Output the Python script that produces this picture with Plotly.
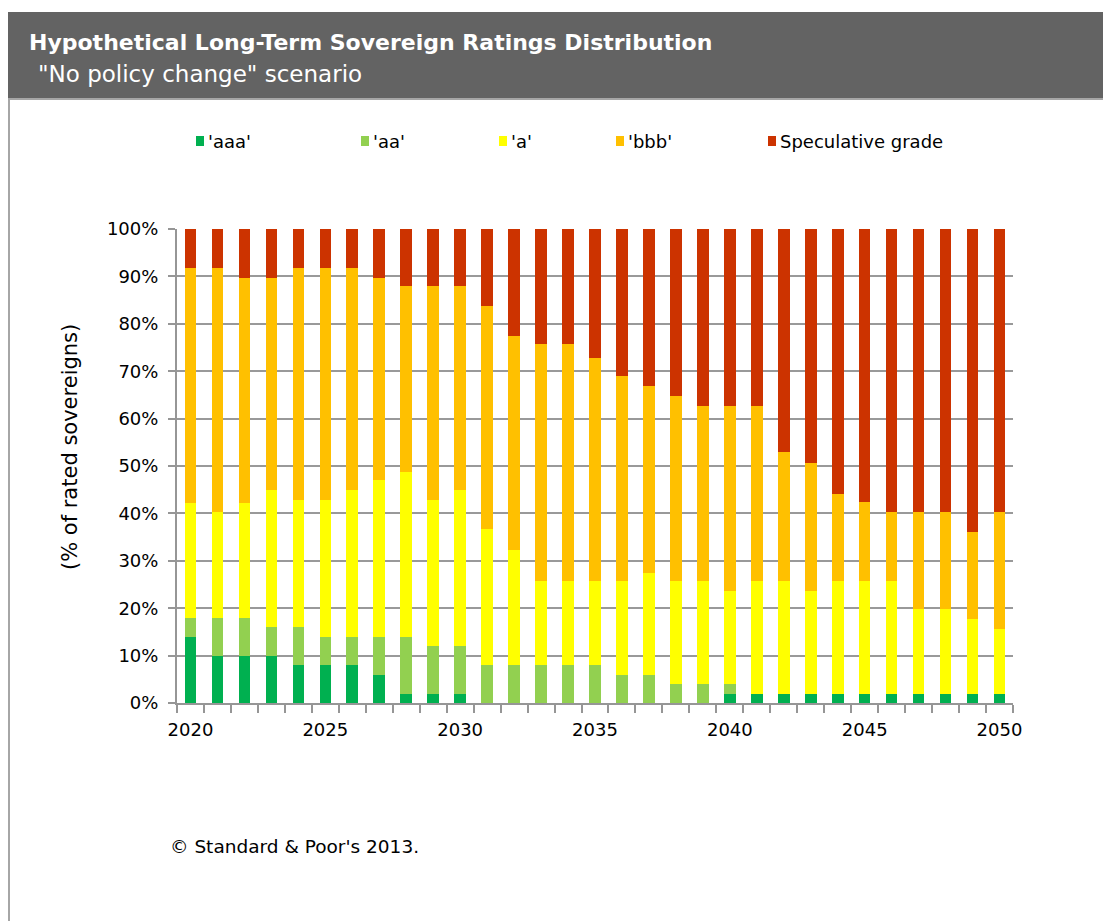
import plotly.graph_objects as go

# ---------------- data ----------------
years = list(range(2020, 2051))
tick_years = [2020, 2025, 2030, 2035, 2040, 2045, 2050]
tick_labels = ["2020", "2025", "2030", "2035", "2040", "2045", "2050"]

aaa = [14, 10, 10, 10, 8, 8, 8, 6, 2, 2, 2, 0, 0, 0, 0, 0, 0, 0, 0, 0,
       2, 2, 2, 2, 2, 2, 2, 2, 2, 2, 2]
aa = [4, 8, 8, 6, 8, 6, 6, 8, 12, 10, 10, 8, 8, 8, 8, 8, 6, 6, 4, 4,
      2, 0, 0, 0, 0, 0, 0, 0, 0, 0, 0]
a = [24.3, 22.3, 24.3, 28.9, 26.8, 28.8, 30.9, 33.0, 34.7, 30.8, 32.9,
     28.8, 24.2, 17.8, 17.8, 17.8, 19.8, 21.5, 21.8, 21.8, 19.7,
     23.8, 23.8, 21.7, 23.8, 23.8, 23.8, 17.9, 17.9, 15.8, 13.7]
bbb = [49.5, 51.5, 47.4, 44.8, 49.0, 49.0, 46.9, 42.7, 39.3, 45.2, 43.1,
       46.9, 45.2, 49.9, 49.9, 47.0, 43.2, 39.4, 38.9, 36.8, 38.9,
       36.8, 27.1, 27.0, 18.3, 16.6, 14.5, 20.4, 20.4, 18.2, 24.6]
spec = [8.2, 8.2, 10.3, 10.3, 8.2, 8.2, 8.2, 10.3, 12.0, 12.0, 12.0,
        16.3, 22.6, 24.3, 24.3, 27.2, 31.0, 33.1, 35.3, 37.4, 37.4,
        37.4, 47.1, 49.3, 55.9, 57.6, 59.7, 59.7, 59.7, 64.0, 59.7]

series_names = ["'aaa'", "'aa'", "'a'", "'bbb'", "Speculative grade"]
series_values = [aaa, aa, a, bbb, spec]
series_colors = ["#00B050", "#92D050", "#FFFF00", "#FFC000", "#CC3300"]

# ---------------- layout geometry ----------------
# page body has an 8px margin, so figure pixel = screen pixel - 8
OFF = 8
W, H = 1111, 921
L, R, T, B = 177 - OFF, 1013 - OFF, 229 - OFF, 703 - OFF
PW, PH = R - L, B - T
FONT = "DejaVu Sans"


def px(x):
    """screen x -> paper x"""
    return (x - OFF - L) / PW


def py(y):
    """screen y -> paper y"""
    return (B - (y - OFF)) / PH


fig = go.Figure()
for name, vals, col in zip(series_names, series_values, series_colors):
    fig.add_trace(go.Bar(x=years, y=vals, name=name,
                         marker=dict(color=col, line=dict(width=0)),
                         showlegend=False))

shapes = []
annotations = []

# header band
shapes.append(dict(type="rect", xref="paper", yref="paper", layer="below",
                   x0=px(8), x1=px(1125), y0=py(98), y1=py(12),
                   fillcolor="#636363", line=dict(width=0)))
shapes.append(dict(type="line", xref="paper", yref="paper",
                   x0=px(8), x1=px(1125), y0=py(99), y1=py(99),
                   line=dict(color="#a6a6a6", width=2)))
shapes.append(dict(type="line", xref="paper", yref="paper",
                   x0=px(9), x1=px(9), y0=py(99), y1=py(935),
                   line=dict(color="#a6a6a6", width=2)))

annotations.append(dict(text="<b>Hypothetical Long-Term Sovereign Ratings Distribution</b>",
                        xref="paper", yref="paper", x=px(27), y=py(43),
                        xanchor="left", yanchor="middle", showarrow=False,
                        font=dict(family=FONT, size=22, color="white")))
annotations.append(dict(text="\"No policy change\" scenario",
                        xref="paper", yref="paper", x=px(36), y=py(74),
                        xanchor="left", yanchor="middle", showarrow=False,
                        font=dict(family=FONT, size=23, color="white")))

# manual legend
legend_x = [196, 361, 499, 616, 768]
for lx, name, col in zip(legend_x, series_names, series_colors):
    shapes.append(dict(type="rect", xref="paper", yref="paper",
                       x0=px(lx), x1=px(lx + 8), y0=py(146), y1=py(136),
                       fillcolor=col, line=dict(width=0)))
    annotations.append(dict(text=name, xref="paper", yref="paper",
                            x=px(lx + 10), y=py(141), xanchor="left",
                            yanchor="middle", showarrow=False,
                            font=dict(family=FONT, size=18, color="#000000")))

# y-axis title
annotations.append(dict(text="(% of rated sovereigns)", xref="paper", yref="paper",
                        x=px(70), y=py(447), textangle=-90, showarrow=False,
                        xanchor="center", yanchor="middle",
                        font=dict(family=FONT, size=21, color="#000000")))

# copyright
annotations.append(dict(text="© Standard & Poor's 2013.", xref="paper", yref="paper",
                        x=px(168), y=py(846), xanchor="left", yanchor="middle",
                        showarrow=False,
                        font=dict(family=FONT, size=18.5, color="#000000")))

fig.update_layout(
    width=W, height=H,
    margin=dict(l=L, r=W - R, t=T, b=H - B, pad=0),
    barmode="stack", bargap=0.57,
    paper_bgcolor="white", plot_bgcolor="white",
    font=dict(family=FONT, size=18, color="#000000"),
    shapes=shapes, annotations=annotations,
    xaxis=dict(range=[2019.5, 2050.5], tickmode="array", tickvals=tick_years,
               ticktext=tick_labels, ticks="outside", ticklen=9,
               tickcolor="rgba(0,0,0,0)", showgrid=False, zeroline=False,
               showline=True, linecolor="#969696", linewidth=2,
               tickfont=dict(family=FONT, size=18, color="#000000"),
               minor=dict(tickmode="linear", tick0=2019.5, dtick=1,
                          ticks="outside", ticklen=8, tickcolor="#969696",
                          tickwidth=2, showgrid=False)),
    yaxis=dict(range=[0, 100], dtick=10, ticksuffix="%", ticks="outside",
               ticklen=7, tickcolor="#969696", tickwidth=2,
               showgrid=True, gridcolor="#999999", gridwidth=1.5,
               zeroline=False, showline=True, linecolor="#969696", linewidth=2,
               ticklabelstandoff=6,
               tickfont=dict(family=FONT, size=18, color="#000000")),
)

fig.write_html("out.html")
